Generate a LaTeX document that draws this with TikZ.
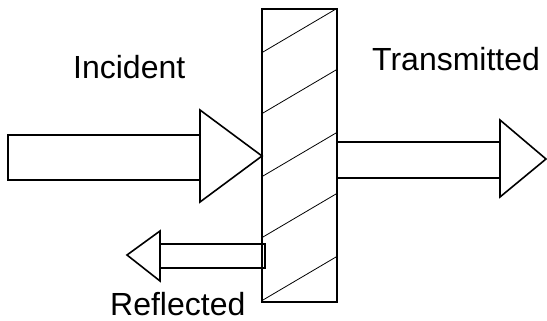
\documentclass[tikz,border=0pt]{standalone}
\usepackage{fontspec}
\setmainfont{Liberation Sans}
\begin{document}
\begin{tikzpicture}[x=1pt,y=-1pt,
  shaft/.style={line width=2.8pt,line join=miter},
  head/.style={line width=1.6pt,line join=miter,fill=white},
  slabline/.style={line width=1.6pt},
  hatch/.style={line width=0.8pt},
  lbl/.style={inner sep=0pt,anchor=base west,font=\fontsize{32}{36}\selectfont}]
\useasboundingbox (0,0) rectangle (547,321);
% slab
\coordinate (sTL) at (262,9);
\coordinate (sBR) at (337,302);
\foreach \y in {52,113,176,237,300}
  \draw[hatch] (263,\y) -- (336,\y-43);
% incident arrow
\draw[shaft] (200,135) -- (8,135) -- (8,180) -- (200,180);
\draw[head] (200,110) -- (262,156) -- (200,202) -- cycle;
% transmitted arrow
\draw[shaft] (337,142) -- (500,142);
\draw[shaft] (337,178) -- (500,178);
\draw[head] (500,120) -- (546,159) -- (500,197) -- cycle;
% reflected arrow
\draw[shaft] (160,244) -- (265,244) -- (265,268) -- (160,268);
\draw[head] (160,231) -- (127,255) -- (160,281) -- cycle;
\draw[slabline] (sTL) rectangle (sBR);
% labels
\node[lbl] (inc) at (73,79) {Incident};
\node[lbl] (tra) at (372,71) {Transmitted};
\node[lbl] (ref) at (110,315) {Reflected};
\end{tikzpicture}
\end{document}
